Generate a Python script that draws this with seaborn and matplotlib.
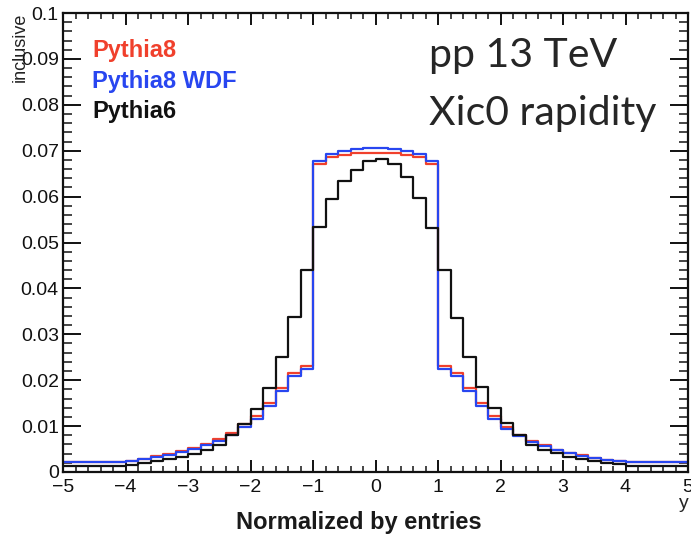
import numpy as np
import pandas as pd
import matplotlib
matplotlib.use("Agg")
import matplotlib.pyplot as plt
import seaborn as sns
from matplotlib.ticker import MultipleLocator, AutoMinorLocator, FuncFormatter

# bin edges: one wide bin in each tail, 0.2 wide bins from -4 to 4
bin_edges = [-5.0] + [round(-4.0 + 0.2 * i, 1) for i in range(41)] + [5.0]

pythia8 = [0.0021, 0.0025, 0.0029, 0.0034, 0.0039, 0.0045, 0.0052, 0.0061, 0.0072, 0.0086,
           0.0104, 0.0123, 0.0150, 0.0182, 0.0216, 0.0232,
           0.0672, 0.0686, 0.0691, 0.0694, 0.0696, 0.0696, 0.0694, 0.0691, 0.0686, 0.0672,
           0.0232, 0.0216, 0.0182, 0.0151, 0.0121, 0.0099, 0.0081, 0.0068, 0.0058, 0.0049,
           0.0042, 0.0036, 0.0031, 0.0027, 0.0024, 0.0021]
pythia8_wdf = [0.0021, 0.0025, 0.0029, 0.0033, 0.0038, 0.0044, 0.0050, 0.0058, 0.0068, 0.0080,
               0.0097, 0.0116, 0.0143, 0.0177, 0.0209, 0.0224,
               0.0678, 0.0693, 0.0699, 0.0704, 0.0706, 0.0706, 0.0704, 0.0700, 0.0693, 0.0678,
               0.0224, 0.0209, 0.0177, 0.0144, 0.0116, 0.0094, 0.0078, 0.0066, 0.0056, 0.0047,
               0.0041, 0.0035, 0.0030, 0.0027, 0.0024, 0.0021]
pythia6 = [0.0012, 0.0016, 0.0020, 0.0024, 0.0028, 0.0033, 0.0040, 0.0048, 0.0059, 0.0081,
           0.0105, 0.0137, 0.0183, 0.0251, 0.0337, 0.0440,
           0.0533, 0.0594, 0.0635, 0.0659, 0.0678, 0.0681, 0.0672, 0.0643, 0.0596, 0.0531,
           0.0439, 0.0335, 0.0251, 0.0186, 0.0139, 0.0106, 0.0081, 0.0059, 0.0049, 0.0041,
           0.0033, 0.0028, 0.0023, 0.0019, 0.0017, 0.0013]

series_names = ["Pythia8", "Pythia8 WDF", "Pythia6"]
series_colors = ["#f0402c", "#2846f0", "#111111"]

edges = np.array(bin_edges)
centers = 0.5 * (edges[:-1] + edges[1:])

sns.set_style("ticks")
plt.rcParams["font.family"] = ["Liberation Sans", "DejaVu Sans"]

fig = plt.figure(figsize=(6.91, 5.39), dpi=100)
ax = fig.add_axes([63 / 691, 67 / 539, 625 / 691, 459 / 539])

for name, vals, col in zip(series_names, [pythia8, pythia8_wdf, pythia6], series_colors):
    df = pd.DataFrame({"y": centers, "w": vals})
    sns.histplot(data=df, x="y", weights="w", bins=list(bin_edges), element="step",
                 fill=False, color=col, linewidth=1.6, ax=ax)

ax.set_xlim(-5, 5)
ax.set_ylim(0, 0.1)
ax.set_xlabel("")
ax.set_ylabel("")

ax.xaxis.set_major_locator(MultipleLocator(1))
ax.xaxis.set_minor_locator(AutoMinorLocator(5))
ax.yaxis.set_major_locator(MultipleLocator(0.01))
ax.yaxis.set_minor_locator(AutoMinorLocator(5))
ax.yaxis.set_major_formatter(FuncFormatter(lambda v, p: "%g" % round(v, 3)))

ax.tick_params(axis="x", which="major", direction="in", top=True, length=8.5, width=1.4,
               labelsize=14, pad=5, colors="#111111")
ax.tick_params(axis="x", which="minor", direction="in", top=True, length=4.5, width=1.2)
ax.tick_params(axis="y", which="major", direction="in", right=True, length=13, width=1.4,
               labelsize=14, pad=3, colors="#111111")
ax.tick_params(axis="y", which="minor", direction="in", right=True, length=6.5, width=1.2)
for sp in ax.spines.values():
    sp.set_linewidth(1.6)
    sp.set_color("#111111")

# legend as coloured text, like the original
legend_base = [57, 88, 118]
for name, col, yb in zip(series_names, series_colors, legend_base):
    fig.text(92 / 691, 1 - yb / 539, name, color=col, fontsize=17,
             fontweight="bold", va="baseline", ha="left")

fig.text(429 / 691, 1 - 67 / 539, "pp 13 TeV", fontsize=29.5, family="Lato",
         ha="left", va="baseline")
fig.text(429 / 691, 1 - 125 / 539, "Xic0 rapidity", fontsize=29.5, family="Lato",
         ha="left", va="baseline")

fig.text(20 / 691, 1 - 13 / 539, "inclusive", rotation=90, fontsize=13,
         ha="center", va="top", color="#222222")
fig.text(684 / 691, 1 - 503 / 539, "y", fontsize=14, ha="center", va="center")
fig.text(359 / 691, 1 - 523 / 539, "Normalized by entries", fontsize=17,
         fontweight="bold", ha="center", va="center", color="#1a1a1a")

fig.savefig("out.png", dpi=100)
